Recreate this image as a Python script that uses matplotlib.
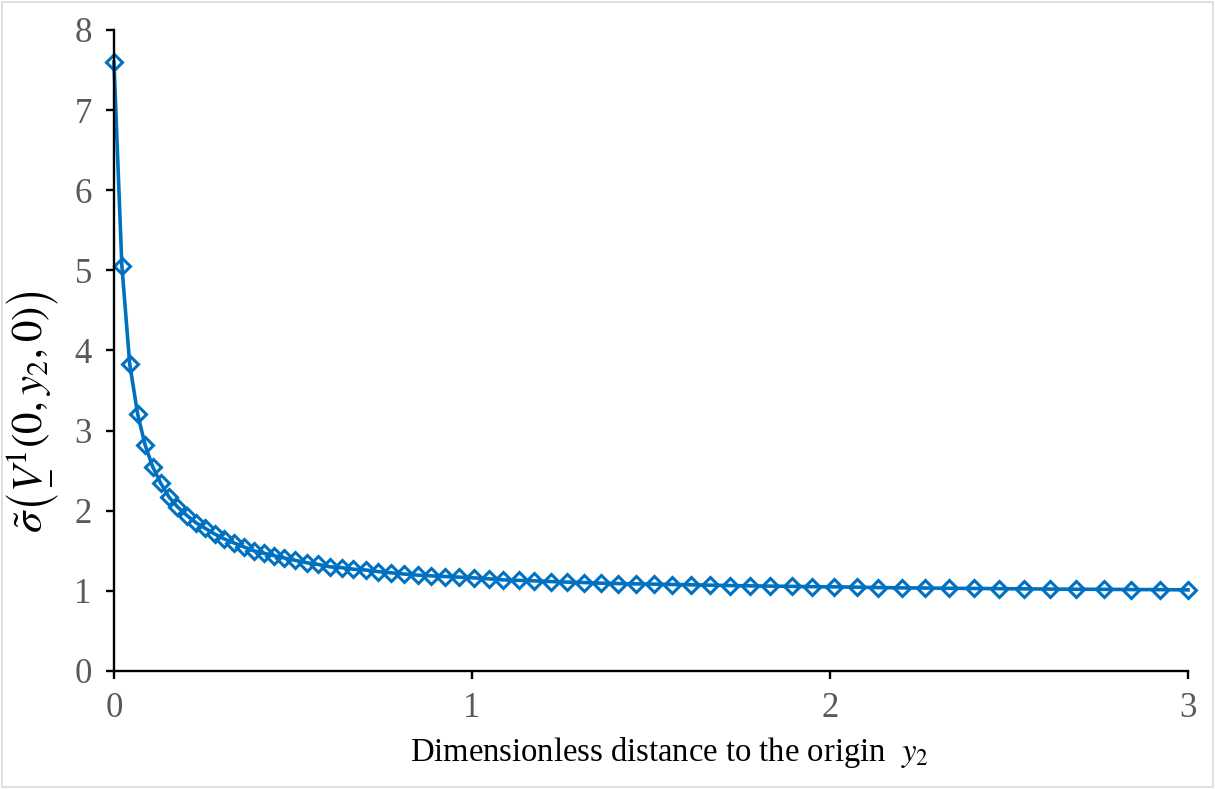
import matplotlib
matplotlib.use("Agg")
import matplotlib.pyplot as plt
from matplotlib.patches import Rectangle

# values
y2 = [0.0, 0.022, 0.044, 0.066, 0.087, 0.108, 0.131, 0.154, 0.177, 0.204,
      0.229, 0.255, 0.281, 0.307, 0.334, 0.362, 0.390, 0.418, 0.446, 0.476,
      0.507, 0.539, 0.570, 0.603, 0.636, 0.669, 0.703, 0.738, 0.774, 0.810,
      0.848, 0.886, 0.924, 0.964, 1.005, 1.047, 1.088, 1.130, 1.174, 1.220,
      1.266, 1.312, 1.359, 1.407, 1.458, 1.508, 1.560, 1.613, 1.666, 1.720,
      1.776, 1.833, 1.893, 1.950, 2.011, 2.074, 2.135, 2.200, 2.266, 2.333,
      2.401, 2.471, 2.543, 2.615, 2.688, 2.764, 2.842, 2.921, 3.0]
sigma = [7.60, 5.06, 3.83, 3.21, 2.82, 2.55, 2.34, 2.17, 2.05, 1.94,
         1.85, 1.78, 1.71, 1.65, 1.60, 1.55, 1.50, 1.47, 1.44, 1.41,
         1.38, 1.35, 1.33, 1.30, 1.29, 1.27, 1.26, 1.24, 1.225, 1.21,
         1.196, 1.187, 1.179, 1.171, 1.162, 1.15, 1.137, 1.131, 1.125, 1.116,
         1.109, 1.104, 1.096, 1.091, 1.087, 1.084, 1.079, 1.075, 1.071, 1.066,
         1.062, 1.059, 1.056, 1.052, 1.05, 1.046, 1.041, 1.037, 1.035, 1.032,
         1.030, 1.027, 1.025, 1.022, 1.020, 1.019, 1.016, 1.015, 1.012]
x_ticks = [0, 1, 2, 3]
y_ticks = [0, 1, 2, 3, 4, 5, 6, 7, 8]

plt.rcParams['font.family'] = ['Liberation Serif', 'DejaVu Serif']
plt.rcParams['mathtext.fontset'] = 'stix'

fig = plt.figure(figsize=(12.15, 7.89), dpi=100)
ax = fig.add_axes([0.0938, 0.1496, 0.8840, 0.8124])

# light grey chart border
fig.patches.append(Rectangle((0.002, 0.002), 0.996, 0.996, transform=fig.transFigure,
                             fill=False, edgecolor='#D9D9D9', linewidth=1.2))

ax.plot(y2, sigma, color='#0070C0', linewidth=2.6, marker='D', markersize=8,
        markerfacecolor='none', markeredgecolor='#0070C0', markeredgewidth=2.2,
        clip_on=False)

ax.set_xlim(0, 3)
ax.set_ylim(0, 8)
ax.set_xticks(x_ticks)
ax.set_yticks(y_ticks)

for side in ['top', 'right']:
    ax.spines[side].set_visible(False)
for side in ['left', 'bottom']:
    ax.spines[side].set_linewidth(1.7)
    ax.spines[side].set_color('black')

ax.tick_params(axis='both', direction='out', length=6, width=1.7, color='black',
               labelsize=25, labelcolor='#595959')
ax.tick_params(axis='y', pad=10)
ax.tick_params(axis='x', pad=9)

ax.set_xlabel(r'Dimensionless distance to the origin  $y_2$', fontsize=23.5,
              color='black')
ax.xaxis.set_label_coords(0.517, -0.1)

# try an underlined V first, fall back when mathtext cannot parse it
labels = [r'$\tilde{\sigma}\left(\underset{-}{V}^{1}(0,y_{2},0)\right)$',
          r'$\tilde{\sigma}\left(V^{1}(0,y_{2},0)\right)$']
for label in labels:
    ax.set_ylabel(label, fontsize=31, color='black')
    try:
        fig.canvas.draw()
        break
    except ValueError:
        continue
ax.yaxis.set_label_coords(-0.049, 0.405)

plt.savefig('out.png', dpi=100)
plt.close()
